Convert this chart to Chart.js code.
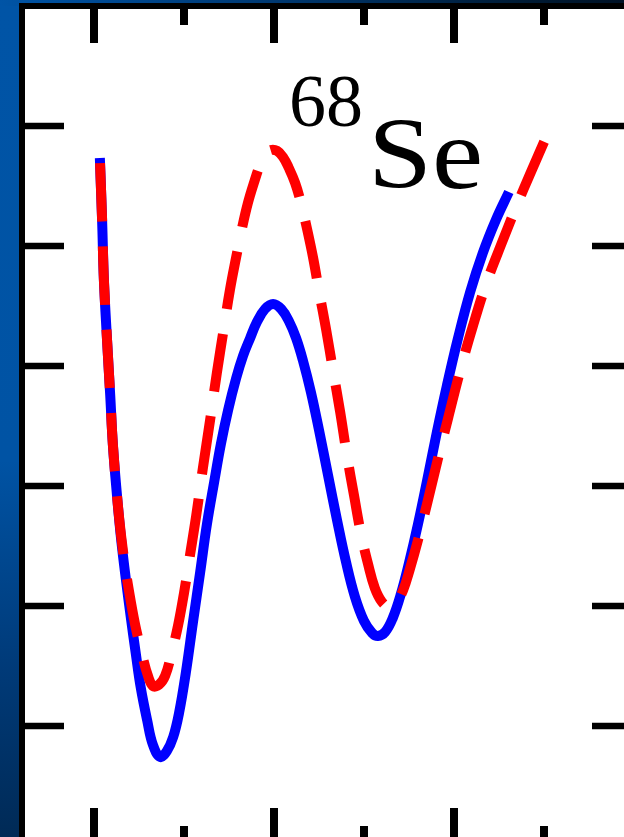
<!DOCTYPE html>
<html><head><meta charset="utf-8">
<script src="https://cdn.jsdelivr.net/npm/chart.js@4"></script>
<style>
html,body{margin:0;padding:0;width:624px;height:837px;overflow:hidden;background:#003366;}
#left{position:absolute;left:0;top:0;width:24px;height:837px;background:linear-gradient(to bottom,#0054a6 0%,#0053a4 55%,#003a78 80%,#002a56 100%);}
#topband{position:absolute;left:0;top:0;width:624px;height:6px;background:linear-gradient(to right,#0054a6 0%,#003870 45%,#001a33 85%,#001226 100%);}
#wrap{position:absolute;left:0;top:0;width:640px;height:850px;}
#fontprobe{position:absolute;left:-1000px;top:-1000px;font-family:"Liberation Serif";font-size:20px;}
</style></head>
<body>
<div id="fontprobe">68Se</div>
<div id="left"></div><div id="topband"></div>
<div id="wrap"><canvas id="c" width="640" height="850"></canvas></div>
<script>
// deformation (x) and energy (y) values
const blueBeta = [-0.387,-0.382,-0.378,-0.371,-0.364,-0.358,-0.349,-0.340,-0.329,-0.318,-0.307,-0.296,-0.282,-0.269,-0.253,-0.238,-0.224,-0.211,-0.196,-0.180,-0.164,-0.149,-0.133,-0.118,-0.102,-0.084,-0.069,-0.053,-0.038,-0.020,-0.002,0.016,0.033,0.049,0.064,0.082,0.100,0.120,0.140,0.160,0.180,0.200,0.218,0.231,0.247,0.264,0.282,0.300,0.320,0.340,0.362,0.384,0.409,0.436,0.464,0.493,0.522];
const blueEnergy = [4.733,4.217,3.717,3.217,2.758,2.342,1.925,1.567,1.217,0.900,0.600,0.317,0.050,-0.158,-0.258,-0.208,-0.092,0.108,0.442,0.867,1.283,1.683,2.033,2.350,2.633,2.900,3.083,3.233,3.367,3.475,3.517,3.475,3.375,3.233,3.050,2.783,2.467,2.092,1.717,1.367,1.075,0.875,0.775,0.750,0.783,0.900,1.100,1.358,1.683,2.042,2.450,2.833,3.233,3.617,3.942,4.217,4.450];
const redBeta = [-0.387,-0.382,-0.378,-0.371,-0.364,-0.358,-0.349,-0.340,-0.329,-0.318,-0.307,-0.293,-0.280,-0.269,-0.256,-0.242,-0.227,-0.213,-0.200,-0.187,-0.173,-0.158,-0.142,-0.127,-0.111,-0.098,-0.084,-0.071,-0.058,-0.044,-0.031,-0.018,-0.007,0.007,0.020,0.033,0.047,0.060,0.073,0.087,0.100,0.116,0.131,0.147,0.162,0.178,0.193,0.209,0.224,0.240,0.256,0.271,0.287,0.302,0.320,0.340,0.362,0.387,0.413,0.442,0.473,0.507,0.540,0.571,0.604];
const redEnergy = [4.733,4.217,3.717,3.217,2.758,2.342,1.925,1.592,1.283,1.033,0.817,0.592,0.417,0.333,0.342,0.417,0.617,0.842,1.108,1.417,1.750,2.150,2.550,2.942,3.325,3.633,3.908,4.150,4.358,4.533,4.675,4.767,4.800,4.792,4.742,4.650,4.525,4.358,4.150,3.900,3.625,3.300,2.967,2.617,2.258,1.917,1.608,1.350,1.150,1.033,0.992,1.025,1.133,1.308,1.550,1.850,2.192,2.567,2.950,3.333,3.700,4.033,4.342,4.617,4.900];
const yTickValues = [0,1,2,3,4,5];
const xMajorTicks = [-0.4,0,0.4];
const xMinorTicks = [-0.2,0.2,0.6];
const massNumber = '68';
const elementSymbol = 'Se';

const toPts = (xs, ys) => xs.map((v,i)=>({x:v,y:ys[i]}));
const SERIF = '"Liberation Serif", "Times New Roman", serif';

const frame = {
  id:'frame',
  beforeDraw(chart){
    const {ctx, chartArea:a} = chart;
    ctx.save(); ctx.fillStyle='#ffffff';
    ctx.fillRect(a.left, a.top, a.right-a.left+20, a.bottom-a.top+20);
    ctx.restore();
  },
  afterDatasetsDraw(chart){
    const {ctx, chartArea:a, scales:{x,y}} = chart;
    ctx.save(); ctx.fillStyle='#000000';
    ctx.fillRect(a.left-3, a.top-3, 6, a.bottom-a.top+20);
    ctx.fillRect(a.left-3, a.top-3, a.right-a.left+20, 6);
    yTickValues.forEach(v=>{
      const py = y.getPixelForValue(v);
      ctx.fillRect(a.left, py-3.25, 42, 6.5);
      ctx.fillRect(a.right-42, py-3.25, 42, 6.5);
    });
    xMajorTicks.forEach(v=>{
      const px = x.getPixelForValue(v);
      ctx.fillRect(px-4, a.top, 8, 37);
      ctx.fillRect(px-4, a.bottom-37, 8, 37);
    });
    xMinorTicks.forEach(v=>{
      const px = x.getPixelForValue(v);
      ctx.fillRect(px-4, a.top, 8, 19);
      ctx.fillRect(px-4, a.bottom-19, 8, 19);
    });
    ctx.textBaseline='alphabetic';
    ctx.textAlign='left';
    ctx.font = '74px ' + SERIF;
    ctx.fillText(massNumber, 289, 126);
    ctx.translate(368, 188);
    ctx.scale(1.13, 1);
    ctx.font = '102px ' + SERIF;
    ctx.fillText(elementSymbol, 0, 0);
    ctx.restore();
  }
};

function draw(){
  new Chart(document.getElementById('c'), {
    type:'line',
    data:{
      datasets:[
        {data:toPts(redBeta, redEnergy), borderColor:'#ff0000', borderWidth:10, borderDash:[58.4,25], borderDashOffset:78.4, borderCapStyle:'butt', borderJoinStyle:'round', tension:0.4, pointRadius:0, fill:false},
        {data:toPts(blueBeta, blueEnergy), borderColor:'#0000ff', borderWidth:10, borderCapStyle:'butt', borderJoinStyle:'round', tension:0.4, pointRadius:0, fill:false}
      ]
    },
    options:{
      responsive:false, animation:false, devicePixelRatio:1,
      layout:{padding:{left:22, top:6, right:6, bottom:5}},
      plugins:{legend:{display:false}, tooltip:{enabled:false}},
      scales:{
        x:{type:'linear', min:-0.56, max:0.8, display:false},
        y:{type:'linear', min:-0.99167, max:6, display:false}
      }
    },
    plugins:[frame]
  });
}
if (document.fonts && document.fonts.load) {
  document.fonts.load('74px "Liberation Serif"', '68Se').then(draw, draw);
} else { draw(); }
</script>
</body></html>
